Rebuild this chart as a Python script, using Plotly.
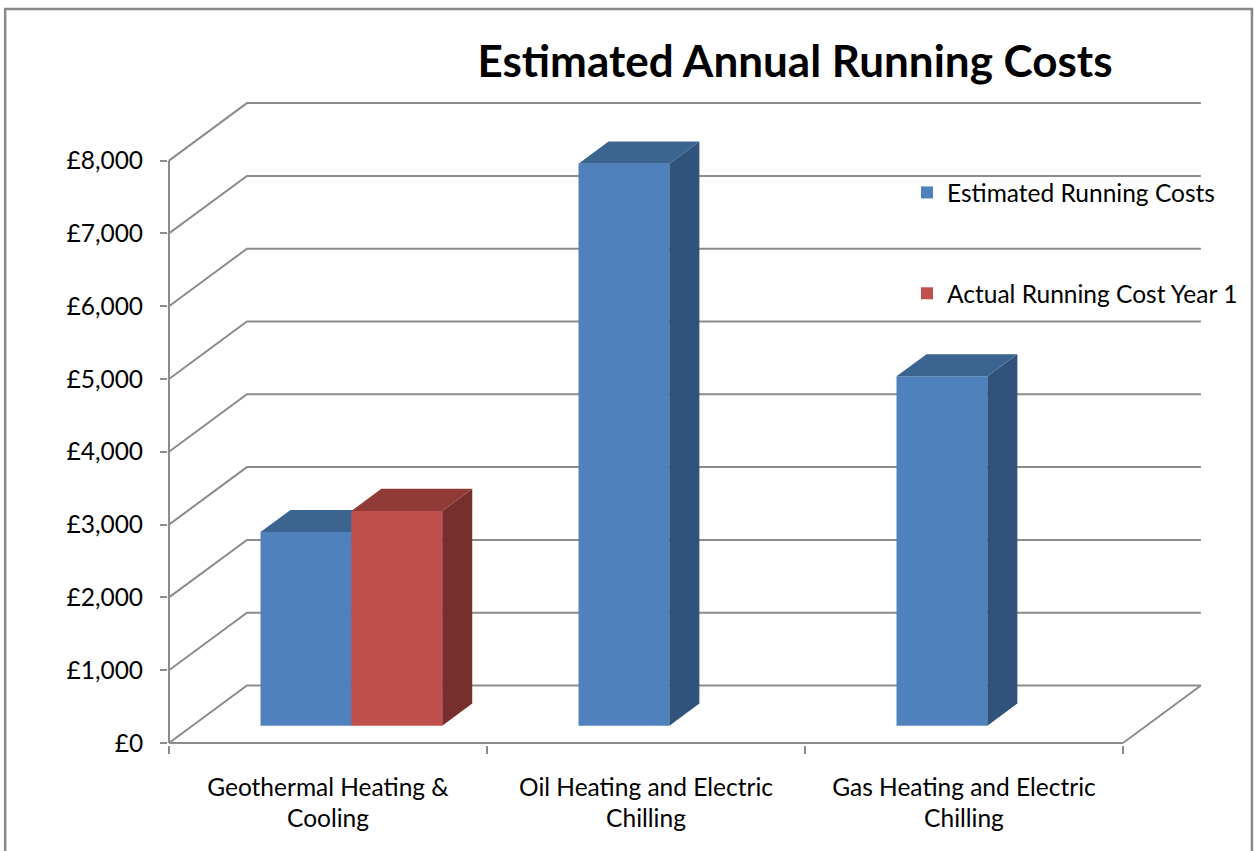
import plotly.graph_objects as go

# ---------------- data ----------------
categories = ["Geothermal Heating &<br>Cooling",
              "Oil Heating and Electric<br>Chilling",
              "Gas Heating and Electric<br>Chilling"]
series_names = ["Estimated Running Costs", "Actual Running Cost Year 1"]
estimated = [2660, 7720, 4800]
actual = [2950, None, None]
y_tickvals = [0, 1000, 2000, 3000, 4000, 5000, 6000, 7000, 8000]
y_ticktext = ["£0", "£1,000", "£2,000", "£3,000", "£4,000",
              "£5,000", "£6,000", "£7,000", "£8,000"]
title = "Estimated Annual Running Costs"

# ---------------- style / geometry ----------------
W_PX, H_PX = 1254, 851
M_L, M_R, M_T, M_B = 168, 50, 100, 106
U = 318.3                 # px per category unit
P = 0.0728                # px per value unit
X0_PX = 169               # px of x = -0.5 (front axis)
Y0_PX = 743               # px of value 0 (front floor)
plot_w = W_PX - M_L - M_R
plot_h = H_PX - M_T - M_B
x_range = [-0.5 - (X0_PX - M_L) / U, -0.5 + (W_PX - M_R - X0_PX) / U]
y_range = [-(M_T + plot_h - Y0_PX) / P, (Y0_PX - M_T) / P]

DX = 78 / U               # depth offset (x units)
DY = 57.5 / P             # depth offset (value units)
BW = 1 / 3.5              # bar width
F0 = 0.30                 # bar front depth fraction
FD = 0.385                # bar depth fraction

GRID = "#8C8C8C"
FONT = "Lato"
FS = 24.5
colors = {
    0: dict(front="#4F81BD", top="#3C6491", side="#30527B"),
    1: dict(front="#C0504D", top="#913B38", side="#772F2D"),
}

n = len(categories)
fig = go.Figure()

# ---- walls / gridlines (subplot 1) ----
gx, gy = [], []
left = -0.5
right = n - 0.5
for v in y_tickvals:
    gx += [left, left + DX, right + DX, None]
    gy += [v, v + DY, v + DY, None]
gx += [right, right + DX, None]
gy += [0, DY, None]
fig.add_trace(go.Scatter(x=gx, y=gy, mode="lines", line=dict(color=GRID, width=2),
                         showlegend=False, hoverinfo="skip", xaxis="x", yaxis="y"))
# front axes
fig.add_trace(go.Scatter(x=[left, left, None, left, right],
                         y=[y_tickvals[-1], 0, None, 0, 0], mode="lines",
                         line=dict(color=GRID, width=2), showlegend=False,
                         hoverinfo="skip", xaxis="x", yaxis="y"))

# ---- bars ----
def add_series(idx, values, xa, ya):
    c = colors[idx]
    off = -BW / 2 if idx == 0 else BW / 2
    xs, ys, bases = [], [], []
    sx, sy, tx, ty = [], [], [], []
    for i, v in enumerate(values):
        if v is None:
            continue
        xc = i + off + F0 * DX
        yb = F0 * DY
        xs.append(xc); ys.append(v); bases.append(yb)
        xl, xr = xc - BW / 2, xc + BW / 2
        yt = yb + v
        ddx, ddy = FD * DX, FD * DY
        sx += [xr, xr + ddx, xr + ddx, xr, xr, None]
        sy += [yb, yb + ddy, yt + ddy, yt, yb, None]
        tx += [xl, xr, xr + ddx, xl + ddx, xl, None]
        ty += [yt, yt, yt + ddy, yt + ddy, yt, None]
    fig.add_trace(go.Bar(x=xs, y=ys, base=bases, width=BW, name=series_names[idx],
                         marker=dict(color=c["front"], line=dict(width=0)),
                         legendgroup=f"g{idx}", xaxis=xa, yaxis=ya))
    fig.add_trace(go.Scatter(x=sx, y=sy, mode="lines", fill="toself",
                             fillcolor=c["side"], line=dict(width=0, color=c["side"]),
                             showlegend=False, hoverinfo="skip", legendgroup=f"g{idx}",
                             xaxis=xa, yaxis=ya))
    fig.add_trace(go.Scatter(x=tx, y=ty, mode="lines", fill="toself",
                             fillcolor=c["top"], line=dict(width=0, color=c["top"]),
                             showlegend=False, hoverinfo="skip", legendgroup=f"g{idx}",
                             xaxis=xa, yaxis=ya))

add_series(0, estimated, "x2", "y2")
add_series(1, actual, "x3", "y3")

hidden = dict(range=x_range, showgrid=False, zeroline=False, showline=False,
              showticklabels=False, ticks="", fixedrange=True)
hidden_y = dict(range=y_range, showgrid=False, zeroline=False, showline=False,
                showticklabels=False, ticks="", fixedrange=True)

fig.update_layout(
    width=W_PX, height=H_PX,
    margin=dict(l=M_L, r=M_R, t=M_T, b=M_B, pad=0),
    paper_bgcolor="white", plot_bgcolor="rgba(0,0,0,0)",
    font=dict(family=FONT, size=FS, color="#000000"),
    barmode="overlay",
    title=dict(text=f"<b>{title}</b>", x=795 / W_PX, xanchor="center", xref="container",
               y=1 - 62 / H_PX, yanchor="middle", yref="container",
               font=dict(family=FONT, size=44, color="#000000")),
    xaxis=dict(range=x_range, tickvals=list(range(n)), ticktext=categories,
               ticks="", showgrid=False, zeroline=False, showline=False,
               ticklabelstandoff=25, fixedrange=True,
               tickfont=dict(family=FONT, size=FS, color="#000000")),
    yaxis=dict(range=y_range, tickvals=y_tickvals, ticktext=y_ticktext,
               ticks="outside", ticklen=7, tickwidth=2, tickcolor=GRID,
               showgrid=False, zeroline=False, showline=False,
               ticklabelstandoff=12, fixedrange=True,
               tickfont=dict(family=FONT, size=FS, color="#000000")),
    xaxis2=dict(overlaying="x", anchor="y2", range=x_range,
                tickvals=[k - 0.5 for k in range(n + 1)], ticks="outside",
                ticklen=8, tickwidth=2, tickcolor=GRID, showticklabels=False,
                showgrid=False, zeroline=False, showline=False, fixedrange=True),
    yaxis2=dict(overlaying="y", anchor="x2", **hidden_y),
    xaxis3=dict(overlaying="x", anchor="y3", **hidden),
    yaxis3=dict(overlaying="y", anchor="x3", **hidden_y),
    legend=dict(x=(907 - M_L) / plot_w, xanchor="left",
                y=(M_T + plot_h - 170) / plot_h, yanchor="top",
                bgcolor="rgba(0,0,0,0)", tracegroupgap=66,
                font=dict(family=FONT, size=FS, color="#000000")),
    shapes=[dict(type="rect", xref="paper", yref="paper",
                 x0=(5 - M_L) / plot_w, x1=(1253 - M_L) / plot_w,
                 y0=(M_T + plot_h - 870) / plot_h, y1=(M_T + plot_h - 9) / plot_h,
                 line=dict(color="#888888", width=2.5), layer="below")],
)

fig.write_html("out.html")
